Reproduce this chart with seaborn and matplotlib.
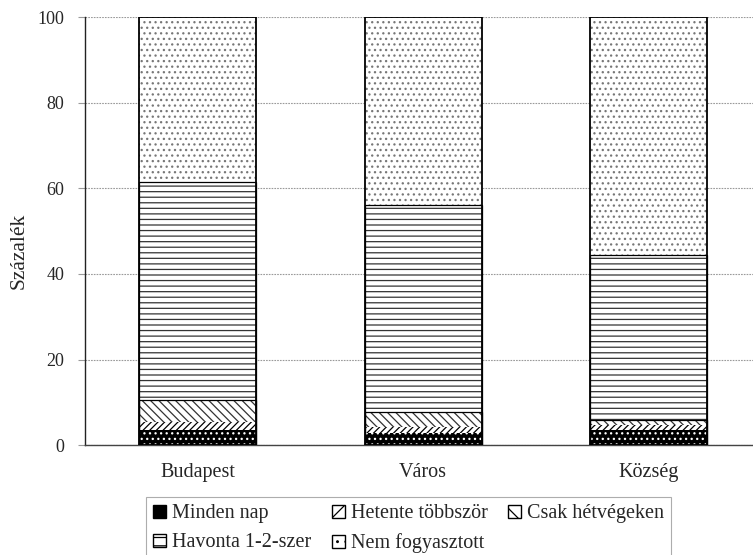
import numpy as np
import pandas as pd
import matplotlib
matplotlib.use("Agg")
import matplotlib.pyplot as plt
import seaborn as sns
from matplotlib.patches import Patch

# values (percent)
categories = ["Budapest", "Város", "Község"]
minden_nap = [3.5, 2.9, 3.5]
hetente = [2.0, 1.3, 1.2]
csak_hetvegen = [5.0, 3.5, 1.2]
havonta = [51.0, 48.3, 38.6]
nem_fogyasztott = [38.5, 44.0, 55.5]

series_names = ["Minden nap", "Hetente többször", "Csak hétvégeken",
                "Havonta 1-2-szer", "Nem fogyasztott"]
y_ticks = [0, 20, 40, 60, 80, 100]

sns.set_style("white")
plt.rcParams["font.family"] = ["Liberation Serif", "DejaVu Serif"]
plt.rcParams["hatch.linewidth"] = 0.9

df = pd.DataFrame({
    "cat": categories,
    "Minden nap": minden_nap,
    "Hetente többször": hetente,
    "Csak hétvégeken": csak_hetvegen,
    "Havonta 1-2-szer": havonta,
    "Nem fogyasztott": nem_fogyasztott,
})
cum = df[series_names].cumsum(axis=1)

# face, edge (= hatch colour), hatch
styles = {
    "Minden nap": ("black", "white", "..."),
    "Hetente többször": ("white", "black", "/////"),
    "Csak hétvégeken": ("white", "#333333", "\\\\\\\\"),
    "Havonta 1-2-szer": ("white", "#333333", "---"),
    "Nem fogyasztott": ("white", "#777777", "..."),
}

fig = plt.figure(figsize=(7.53, 5.55), dpi=100)
ax = fig.add_axes([0.113, 0.198, 0.898, 0.771])

# draw stacks from the top layer down so shorter bars overlay taller ones
for name in reversed(series_names):
    face, edge, hatch = styles[name]
    n_before = len(ax.patches)
    sns.barplot(x=df["cat"], y=cum[name], color=face, width=0.52,
                ax=ax, saturation=1, zorder=2)
    for p in ax.patches[n_before:]:
        p.set_facecolor(face)
        p.set_edgecolor(edge)
        p.set_hatch(hatch)
        p.set_linewidth(0)

# black outline of the full stack plus thin separator lines
sns.barplot(x=df["cat"], y=cum["Nem fogyasztott"], fill=False, color="black",
            width=0.52, ax=ax, linewidth=1.3, zorder=3)
for name in ["Csak hétvégeken", "Havonta 1-2-szer"]:
    sns.barplot(x=df["cat"], y=cum[name], fill=False, color="black",
                width=0.52, ax=ax, linewidth=0.9, zorder=3)

ax.set_xlim(-0.5, 2.5)
ax.set_ylim(0, 100)
ax.set_yticks(y_ticks)
ax.set_yticklabels([str(t) for t in y_ticks], fontsize=13)
ax.yaxis.grid(True, linestyle=(0, (1.5, 1.0)), color="#9a9a9a", linewidth=0.8, zorder=0)
ax.set_axisbelow(True)

ax.set_xticks(range(len(categories)))
ax.set_xticklabels(categories, fontsize=14.5)
ax.set_xticks([0.5, 1.5], minor=True)
ax.tick_params(axis="x", which="major", length=0, pad=13)
ax.tick_params(axis="x", which="minor", length=5, width=0.8, color="#555555", direction="out")
ax.tick_params(axis="y", length=5, width=0.8, color="#9a9a9a", direction="out", pad=10,
               left=True)
ax.set_xlabel("")
ax.set_ylabel("Százalék", fontsize=15.5)
ax.yaxis.set_label_coords(-0.084, 0.453)

for side in ["top", "right"]:
    ax.spines[side].set_visible(False)
ax.spines["left"].set_color("#222222")
ax.spines["bottom"].set_color("#444444")
ax.spines["left"].set_linewidth(1.0)
ax.spines["bottom"].set_linewidth(1.0)

handles = {}
for name in series_names:
    face, edge, hatch = styles[name]
    if name == "Minden nap":
        handles[name] = Patch(facecolor=face, edgecolor="black", hatch="", linewidth=1)
    else:
        handles[name] = Patch(facecolor=face, edgecolor="black", hatch=hatch[:2], linewidth=1)
# ordered so that ncol=3 fills row-wise like the reference
order = ["Minden nap", "Havonta 1-2-szer", "Hetente többször",
         "Nem fogyasztott", "Csak hétvégeken"]
leg = fig.legend([handles[n] for n in order], order, loc="center",
                 bbox_to_anchor=(0.5425, 0.047), ncol=3, fontsize=14.5,
                 frameon=True, fancybox=False, edgecolor="#999999",
                 handlelength=0.65, handleheight=0.65, handletextpad=0.3,
                 columnspacing=1.0, borderpad=0.35, labelspacing=0.5)
leg.get_frame().set_linewidth(0.8)

fig.savefig("out.png", dpi=100)
